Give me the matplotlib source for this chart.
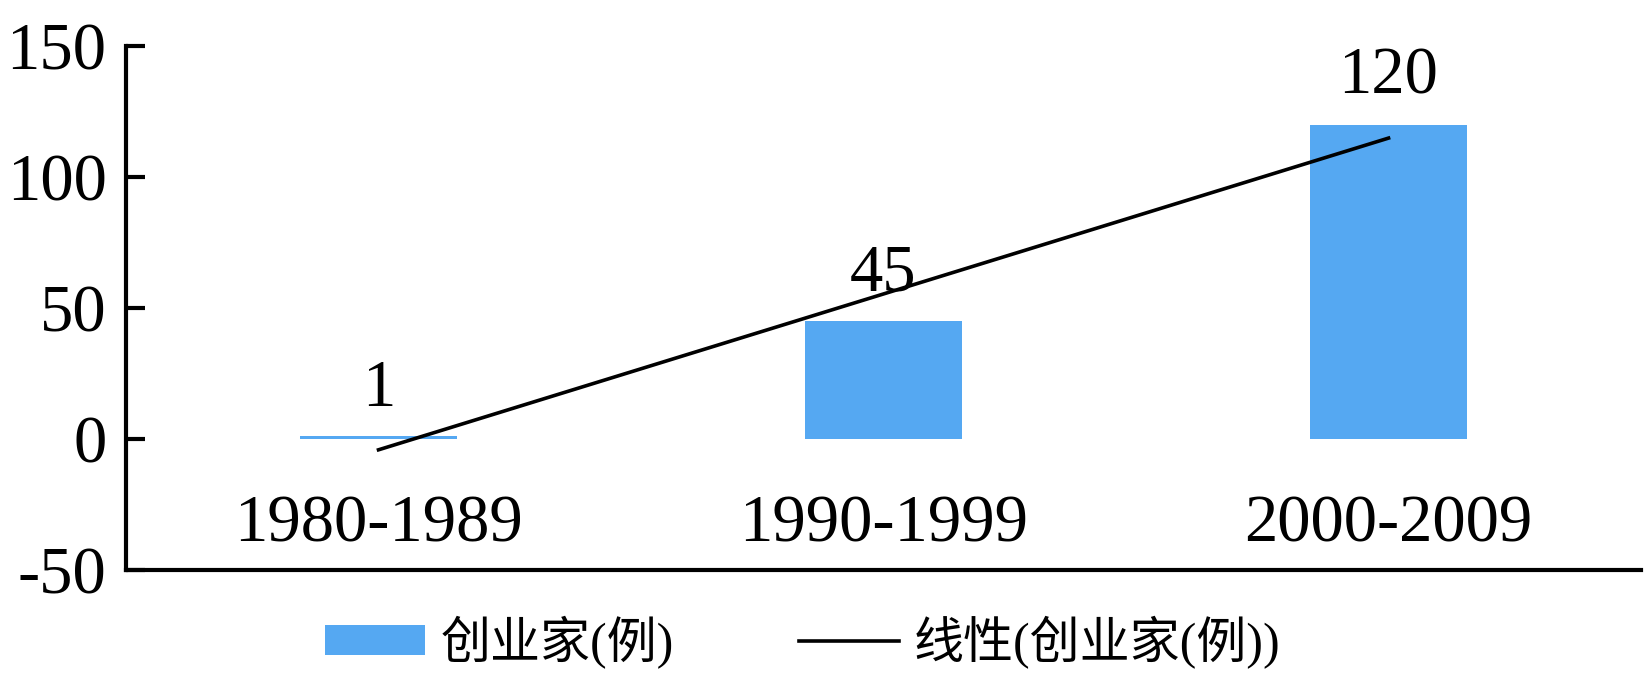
"""
Bar chart of entrepreneurs per decade with a linear trendline.
"""

import numpy as np
import matplotlib
matplotlib.use("Agg")
import matplotlib.pyplot as plt


# ── Data ──────────────────────────────────────────────────────────────────────

decades = ["1980-1989", "1990-1999", "2000-2009"]
counts = [1, 45, 120]
yticks = [-50, 0, 50, 100, 150]

bar_label = "创业家(例)"
trend_label = "线性(创业家(例))"


# ── Style ─────────────────────────────────────────────────────────────────────

BAR_COLOUR = "#55A8F2"
FONT = ["Liberation Serif", "Noto Sans CJK SC"]
TICK_SIZE = 48
plt.rcParams["font.family"] = FONT


def main():
    fig = plt.figure(figsize=(16.45, 6.76), dpi=100)
    ax = fig.add_axes([0.0766, 0.157, 0.921, 0.775])

    x = np.arange(len(decades))
    bars = ax.bar(x, counts, width=0.31, color=BAR_COLOUR, label=bar_label, zorder=2)

    # linear trendline, as Excel fits it
    slope, icpt = np.polyfit(x, counts, 1)
    trend, = ax.plot(x, slope * x + icpt, color="black", lw=2.6,
                     label=trend_label, zorder=3)

    for xi, v in zip(x, counts):
        ax.annotate(str(v), (xi, v), xytext=(0, 12), textcoords="offset points",
                    ha="center", va="bottom", fontsize=TICK_SIZE)

    ax.set_xlim(-0.5, 2.5)
    ax.set_ylim(-50, 150)
    ax.set_yticks(yticks)
    ax.set_yticklabels([str(t) for t in yticks])
    ax.set_xticks(x)
    ax.set_xticklabels(decades)

    for side in ("top", "right"):
        ax.spines[side].set_visible(False)
    for side in ("left", "bottom"):
        ax.spines[side].set_linewidth(3)

    ax.tick_params(axis="y", direction="in", length=14, width=3,
                   labelsize=TICK_SIZE, pad=14)
    ax.tick_params(axis="x", length=0, labelsize=TICK_SIZE, pad=-54)

    fig.legend([bars, trend], [bar_label, trend_label],
               loc="center", bbox_to_anchor=(0.488, 0.05), ncol=2, frameon=False,
               fontsize=36, handlelength=2.0, handleheight=0.55, columnspacing=2.5,
               handletextpad=0.3)

    fig.savefig("out.png", dpi=100)


if __name__ == "__main__":
    main()
